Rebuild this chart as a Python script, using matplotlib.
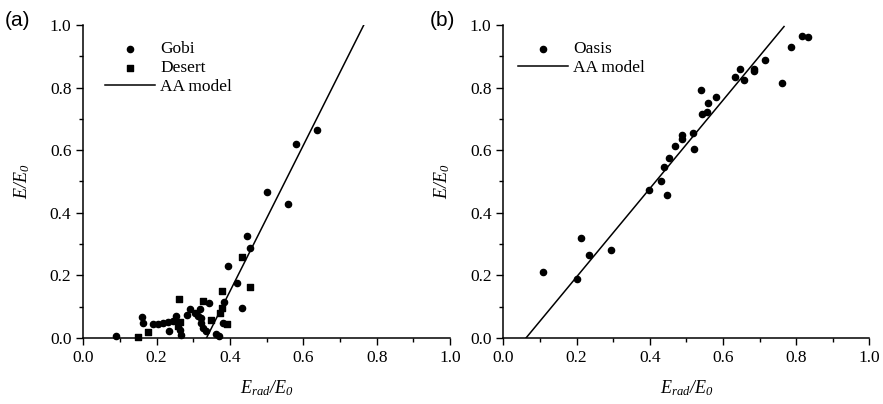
import numpy as np
import matplotlib
matplotlib.use('Agg')
import matplotlib.pyplot as plt
from matplotlib.ticker import MultipleLocator

plt.rcParams['font.family'] = 'Liberation Serif'
plt.rcParams['mathtext.fontset'] = 'custom'
plt.rcParams['mathtext.rm'] = 'Liberation Serif:italic'
plt.rcParams['mathtext.it'] = 'Liberation Serif:italic'

# panel (a): Gobi points
gobi_x = [0.088, 0.160, 0.162, 0.191, 0.204, 0.218, 0.232, 0.233, 0.245, 0.254,
          0.264, 0.266, 0.284, 0.292, 0.304, 0.313, 0.318, 0.322, 0.320, 0.327,
          0.334, 0.342, 0.363, 0.371, 0.380, 0.385, 0.396, 0.418, 0.432, 0.446,
          0.454, 0.501, 0.557, 0.580, 0.638]
gobi_y = [0.007, 0.067, 0.049, 0.044, 0.045, 0.047, 0.050, 0.021, 0.054, 0.069,
          0.026, 0.010, 0.073, 0.092, 0.080, 0.069, 0.093, 0.063, 0.047, 0.031,
          0.023, 0.111, 0.014, 0.006, 0.049, 0.115, 0.231, 0.175, 0.096, 0.326,
          0.287, 0.467, 0.428, 0.620, 0.666]

# panel (a): Desert points
desert_x = [0.149, 0.177, 0.259, 0.262, 0.265, 0.327, 0.347, 0.372, 0.377, 0.378,
            0.392, 0.432, 0.454]
desert_y = [0.004, 0.019, 0.039, 0.124, 0.052, 0.119, 0.058, 0.080, 0.150, 0.097,
            0.044, 0.258, 0.162]

# AA model lines (end points)
aa_a_x = [0.336, 0.765]
aa_a_y = [0.0, 1.0]
aa_b_x = [0.062, 0.767]
aa_b_y = [0.0, 0.995]

# panel (b): Oasis points
oasis_x = [0.108, 0.200, 0.213, 0.233, 0.293, 0.398, 0.431, 0.439, 0.446, 0.454,
           0.470, 0.488, 0.488, 0.518, 0.520, 0.541, 0.542, 0.558, 0.557, 0.581,
           0.632, 0.648, 0.657, 0.684, 0.686, 0.715, 0.762, 0.787, 0.817, 0.832]
oasis_y = [0.210, 0.190, 0.320, 0.264, 0.280, 0.474, 0.503, 0.545, 0.457, 0.574,
           0.614, 0.649, 0.637, 0.656, 0.603, 0.792, 0.716, 0.752, 0.722, 0.771,
           0.833, 0.858, 0.823, 0.852, 0.858, 0.888, 0.814, 0.930, 0.966, 0.962]

fig = plt.figure(figsize=(8.83, 4.04), dpi=100)
ax1 = fig.add_axes([0.0943, 0.1634, 0.4153, 0.7748])
ax2 = fig.add_axes([0.570, 0.1634, 0.4145, 0.7748])


def style_axes(ax):
    ax.set_xlim(0, 1.0)
    ax.set_ylim(0, 1.0)
    ax.spines['top'].set_visible(False)
    ax.spines['right'].set_visible(False)
    ax.xaxis.set_major_locator(MultipleLocator(0.2))
    ax.yaxis.set_major_locator(MultipleLocator(0.2))
    ax.xaxis.set_minor_locator(MultipleLocator(0.1))
    ax.yaxis.set_minor_locator(MultipleLocator(0.1))
    ax.xaxis.set_major_formatter(plt.FormatStrFormatter('%.1f'))
    ax.yaxis.set_major_formatter(plt.FormatStrFormatter('%.1f'))
    ax.tick_params(which='major', direction='out', length=5, width=1, labelsize=12.5)
    ax.tick_params(which='minor', direction='out', length=3, width=1)
    for s in ['left', 'bottom']:
        ax.spines[s].set_linewidth(1.1)
    ax.set_xlabel(r'$E_{rad}/E_{0}$', fontsize=13, labelpad=9)
    ax.set_ylabel(r'$E/E_{0}$', fontsize=13, labelpad=13)


ax1.scatter(gobi_x, gobi_y, s=20, c='k', marker='o', label='Gobi', clip_on=False)
ax1.scatter(desert_x, desert_y, s=16, c='k', marker='s', label='Desert', clip_on=False)
ax1.plot(aa_a_x, aa_a_y, c='k', lw=1.1, label='AA model')
style_axes(ax1)
ax1.legend(loc='upper left', bbox_to_anchor=(0.04, 0.97), frameon=False, fontsize=12.5,
           handlelength=2.9, handletextpad=0.3, labelspacing=0.15, borderaxespad=0)

ax2.scatter(oasis_x, oasis_y, s=20, c='k', marker='o', label='Oasis', clip_on=False)
ax2.plot(aa_b_x, aa_b_y, c='k', lw=1.1, label='AA model')
style_axes(ax2)
ax2.legend(loc='upper left', bbox_to_anchor=(0.02, 0.97), frameon=False, fontsize=12.5,
           handlelength=2.9, handletextpad=0.3, labelspacing=0.15, borderaxespad=0)

fig.text(0.005, 0.95, '(a)', fontsize=15, family='Liberation Sans', va='center')
fig.text(0.487, 0.95, '(b)', fontsize=15, family='Liberation Sans', va='center')

fig.savefig('out.png', dpi=100)
